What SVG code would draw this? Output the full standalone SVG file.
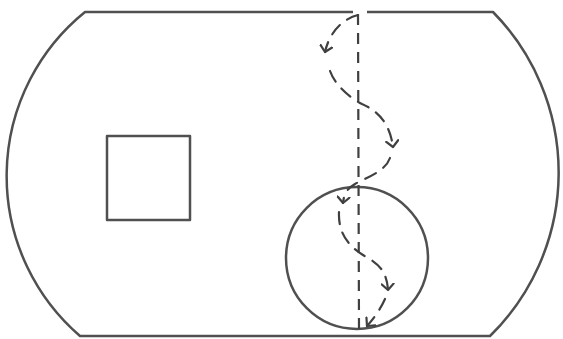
<svg xmlns="http://www.w3.org/2000/svg" width="563" height="339" viewBox="0 0 563 339">
  <style>
    .outline { fill: none; stroke: #505050; stroke-width: 2.5; stroke-linejoin: round; }
    .dash-v { fill: none; stroke: #404040; stroke-width: 2.2; stroke-dasharray: 11 8; }
    .dash-c { fill: none; stroke: #404040; stroke-width: 2.2; stroke-dasharray: 12 9; stroke-linecap: round; marker-end: url(#arrow); }
  </style>
  <defs>
    <marker id="arrow" markerUnits="userSpaceOnUse" markerWidth="14" markerHeight="14" refX="7" refY="7" orient="auto" viewBox="0 0 14 14">
      <path d="M1,1 L7,7 L1,13" fill="none" stroke="#404040" stroke-width="2.2" stroke-linecap="round" stroke-linejoin="round"/>
    </marker>
  </defs>
  <rect width="563" height="339" fill="#ffffff"/>
  <g id="outer-body">
    <path class="outline" d="M353,12 L85,12 A211,211 0 0 0 80,336 L490,336 A229,229 0 0 0 493,12 L367,12"/>
  </g>
  <g id="square">
    <rect class="outline" x="107" y="136" width="83" height="84"/>
  </g>
  <g id="circle">
    <circle class="outline" cx="357" cy="258" r="71"/>
  </g>
  <g id="connectors">
    <line class="dash-v" x1="358" y1="14" x2="359" y2="330"/>
    <path class="dash-c" d="M358,15 C345,18 330,30 325,52"/>
    <path class="dash-c" d="M330,71 C335,85 350,98 362,104 C380,112 390,125 393,147"/>
    <path class="dash-c" d="M390,158 C385,172 365,178 355,184 C348,188 344,193 343,203"/>
    <path class="dash-c" d="M339,212 C338,235 350,248 368,258 C382,266 387,275 388,290"/>
    <path class="dash-c" d="M385,299 C380,310 374,318 367,326"/>
  </g>
</svg>
